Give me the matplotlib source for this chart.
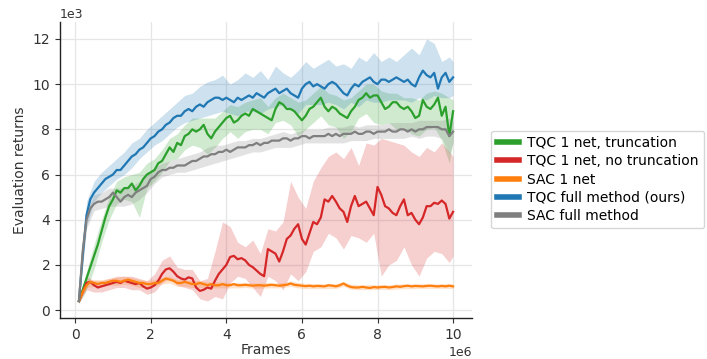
import numpy as np
import matplotlib
matplotlib.use("Agg")
import matplotlib.pyplot as plt

# ---- data (x in 1e6 frames, y in 1e3 returns) ----
x_mean = [round(0.1 * i, 1) for i in range(1, 101)]

blue_mean = [0.4, 2.4, 4.2, 4.9, 5.2, 5.4, 5.6, 5.8, 5.9, 6.0,
             6.2, 6.2, 6.4, 6.6, 6.8, 6.9, 7.1, 7.2, 7.4, 7.6,
             7.7, 7.9, 8.0, 8.2, 8.3, 8.5, 8.6, 8.6, 8.8, 8.9,
             8.8, 9.0, 9.1, 9.0, 9.2, 9.3, 9.4, 9.4, 9.3, 9.4,
             9.3, 9.2, 9.4, 9.3, 9.4, 9.5, 9.4, 9.6, 9.5, 9.4,
             9.6, 9.7, 9.8, 9.6, 9.7, 9.8, 9.6, 9.5, 9.4, 9.8,
             10.0, 10.1, 9.9, 10.0, 9.9, 9.8, 10.0, 10.1, 10.0, 9.8,
             9.6, 9.5, 9.8, 10.0, 9.9, 10.1, 10.2, 10.3, 10.1, 10.0,
             10.2, 10.2, 10.1, 10.2, 10.3, 10.2, 10.1, 10.2, 10.0, 9.9,
             10.3, 10.6, 10.4, 10.3, 10.5, 9.8, 10.3, 10.5, 10.1, 10.3]

green_mean = [0.4, 0.9, 1.4, 1.9, 2.4, 2.9, 3.5, 4.1, 4.6, 4.9,
              5.3, 5.2, 5.4, 5.4, 5.6, 5.3, 5.5, 5.8, 6.0, 6.1,
              6.2, 6.5, 6.6, 6.9, 7.2, 7.0, 7.4, 7.3, 7.7, 7.8,
              8.0, 7.9, 8.0, 8.2, 7.8, 7.6, 7.9, 8.1, 8.3, 8.5,
              8.6, 8.3, 8.4, 8.6, 8.7, 8.6, 8.9, 8.8, 8.7, 8.6,
              8.5, 8.4, 8.9, 9.2, 9.1, 8.9, 8.9, 8.8, 8.6, 8.4,
              8.6, 8.9, 9.0, 9.2, 9.4, 9.0, 8.8, 9.0, 8.9, 8.7,
              8.6, 8.5, 8.8, 9.0, 9.3, 9.4, 9.6, 9.4, 9.5, 9.5,
              9.2, 8.9, 9.0, 9.2, 9.2, 9.0, 8.9, 9.0, 8.8, 8.5,
              8.6, 9.3, 9.0, 8.9, 9.1, 9.4, 8.6, 9.0, 7.7, 8.8]

gray_mean = [0.4, 2.6, 4.0, 4.5, 4.7, 4.8, 4.8, 4.9, 5.0, 5.2,
             5.0, 4.8, 5.0, 5.1, 5.0, 5.2, 5.3, 5.4, 5.5, 5.8,
             5.9, 6.1, 6.2, 6.2, 6.3, 6.3, 6.4, 6.4, 6.4, 6.5,
             6.6, 6.6, 6.7, 6.8, 6.8, 6.9, 6.9, 7.0, 7.0, 7.1,
             7.0, 7.1, 7.2, 7.2, 7.2, 7.3, 7.3, 7.4, 7.3, 7.4,
             7.4, 7.5, 7.5, 7.5, 7.6, 7.6, 7.5, 7.6, 7.6, 7.7,
             7.7, 7.6, 7.7, 7.7, 7.7, 7.7, 7.8, 7.7, 7.8, 7.7,
             7.8, 7.8, 7.8, 7.9, 7.8, 7.8, 7.9, 7.9, 7.8, 7.9,
             7.9, 7.9, 8.0, 7.9, 7.9, 8.0, 8.0, 7.9, 8.0, 7.9,
             8.0, 8.0, 8.1, 8.1, 8.1, 8.1, 8.0, 8.0, 7.7, 7.9]

red_mean = [0.4, 0.8, 1.2, 1.25, 1.1, 1.0, 1.05, 1.1, 1.15, 1.2,
            1.25, 1.2, 1.3, 1.25, 1.2, 1.15, 1.2, 1.05, 0.95, 1.0,
            1.1, 1.3, 1.6, 1.8, 1.85, 1.7, 1.5, 1.4, 1.35, 1.45,
            1.4, 1.0, 0.85, 0.9, 1.0, 0.95, 1.3, 1.6, 1.8, 2.0,
            2.35, 2.4, 2.25, 2.3, 2.2, 2.0, 1.9, 1.75, 1.6, 1.5,
            2.7, 2.6, 2.5, 2.15, 2.6, 3.15, 3.3, 3.6, 3.8, 3.15,
            2.9, 3.4, 3.9, 3.8, 4.1, 4.9, 4.8, 5.05, 4.8, 4.5,
            4.35, 3.9, 4.6, 5.05, 4.6, 4.7, 4.8, 4.5, 4.2, 5.45,
            5.1, 4.6, 4.5, 4.3, 4.2, 4.6, 4.9, 4.2, 4.3, 4.0,
            3.8, 4.1, 4.6, 4.6, 4.75, 4.7, 4.85, 4.7, 4.05, 4.35]

orange_mean = [0.4, 0.8, 1.1, 1.25, 1.2, 1.15, 1.2, 1.2, 1.25, 1.3,
               1.3, 1.25, 1.3, 1.35, 1.3, 1.25, 1.2, 1.2, 1.15, 1.15,
               1.2, 1.2, 1.3, 1.4, 1.35, 1.3, 1.2, 1.2, 1.25, 1.2,
               1.15, 1.15, 1.2, 1.15, 1.1, 1.15, 1.1, 1.1, 1.15, 1.1,
               1.1, 1.15, 1.1, 1.1, 1.12, 1.1, 1.08, 1.1, 1.1, 1.08,
               1.1, 1.12, 1.1, 1.08, 1.1, 1.12, 1.18, 1.12, 1.1, 1.08,
               1.06, 1.08, 1.05, 1.07, 1.06, 1.05, 1.1, 1.08, 1.05, 1.1,
               1.18, 1.08, 1.02, 1.0, 1.0, 1.03, 1.0, 0.98, 1.02, 1.0,
               1.02, 1.03, 1.0, 1.02, 1.05, 1.03, 1.06, 1.08, 1.05, 1.07,
               1.06, 1.05, 1.07, 1.08, 1.06, 1.05, 1.07, 1.05, 1.08, 1.05]

x_band = [0.1, 0.3, 0.5, 0.7, 0.9, 1.1, 1.3, 1.5, 1.7, 1.9, 2.1, 2.3, 2.5, 2.7, 2.9,
          3.1, 3.3, 3.5, 3.7, 3.9, 4.1, 4.3, 4.5, 4.7, 4.9, 5.1, 5.3, 5.5, 5.7, 5.9,
          6.1, 6.3, 6.5, 6.7, 6.9, 7.1, 7.3, 7.5, 7.7, 7.9, 8.1, 8.3, 8.5, 8.7, 8.9,
          9.1, 9.3, 9.5, 9.7, 9.9, 10.0]

blue_upper = [0.5, 4.8, 5.7, 6.1, 6.4, 6.7, 7.0, 7.4, 7.6, 8.0, 8.3, 8.6, 8.9, 9.2, 9.5,
              9.6, 9.9, 10.1, 10.2, 10.4, 10.0, 10.2, 10.5, 10.3, 10.6, 10.2, 10.8, 10.5, 10.3, 10.6,
              11.0, 10.7, 10.9, 11.1, 10.8, 10.9, 10.7, 11.2, 11.0, 11.4, 11.0, 11.2, 11.0, 11.3, 11.6,
              11.3, 12.0, 11.8, 11.0, 11.2, 11.0]
blue_lower = [0.3, 3.7, 4.8, 5.2, 5.5, 5.8, 6.0, 6.3, 6.7, 7.0, 7.3, 7.5, 7.8, 8.1, 8.3,
              8.4, 8.5, 8.6, 8.7, 8.8, 8.7, 8.6, 8.8, 8.8, 8.7, 8.9, 9.0, 9.1, 8.9, 8.7,
              9.1, 9.1, 9.1, 9.2, 9.1, 8.9, 9.2, 9.0, 9.3, 9.2, 9.2, 9.3, 9.3, 9.3, 9.2,
              9.4, 9.3, 9.5, 9.4, 9.4, 9.5]

green_upper = [0.5, 1.7, 2.9, 4.0, 5.0, 5.7, 5.9, 6.0, 6.1, 6.5, 6.7, 7.1, 7.6, 7.8, 8.2,
               8.5, 8.5, 8.5, 8.5, 8.8, 9.1, 9.0, 9.2, 9.3, 9.4, 9.0, 9.4, 9.6, 9.4, 9.2,
               9.3, 9.6, 9.9, 9.6, 9.5, 9.3, 9.4, 9.7, 10.0, 10.0, 9.7, 9.6, 9.6, 9.4, 9.4,
               9.3, 9.6, 9.7, 9.6, 9.4, 9.3]
green_lower = [0.3, 0.9, 1.8, 3.0, 4.0, 4.7, 4.9, 4.8, 4.1, 5.4, 5.7, 6.1, 6.6, 6.7, 7.1,
               7.3, 7.2, 6.9, 7.2, 7.6, 7.9, 7.6, 7.9, 8.0, 8.0, 7.8, 8.3, 8.4, 8.2, 7.7,
               8.0, 8.3, 8.6, 8.2, 8.1, 7.6, 7.9, 8.5, 8.7, 8.3, 8.2, 8.3, 8.0, 8.1, 7.8,
               7.7, 8.0, 8.1, 7.5, 6.5, 7.5]

gray_upper = [0.5, 4.4, 5.1, 5.2, 5.4, 5.4, 5.4, 5.5, 5.7, 6.0, 6.3, 6.5, 6.6, 6.7, 6.8,
              6.9, 7.0, 7.2, 7.3, 7.3, 7.4, 7.5, 7.5, 7.6, 7.6, 7.7, 7.8, 7.9, 7.8, 7.9,
              8.0, 8.0, 8.0, 8.1, 8.1, 8.1, 8.2, 8.1, 8.2, 8.2, 8.2, 8.3, 8.3, 8.3, 8.3,
              8.4, 8.4, 8.4, 8.4, 8.5, 8.3]
gray_lower = [0.3, 3.6, 4.4, 4.5, 4.6, 4.6, 4.6, 4.7, 4.9, 5.2, 5.6, 5.9, 6.0, 6.1, 6.1,
              6.2, 6.3, 6.4, 6.5, 6.6, 6.7, 6.8, 6.9, 7.0, 7.0, 7.1, 7.2, 7.2, 7.2, 7.3,
              7.4, 7.4, 7.4, 7.4, 7.4, 7.4, 7.5, 7.5, 7.5, 7.6, 7.6, 7.6, 7.6, 7.6, 7.7,
              7.6, 7.7, 7.7, 7.6, 6.9, 7.4]

red_upper = [0.5, 1.5, 1.3, 1.3, 1.4, 1.5, 1.5, 1.5, 1.4, 1.3, 1.6, 2.2, 2.4, 1.9, 1.8,
             1.8, 1.3, 1.4, 2.6, 3.9, 3.7, 3.0, 2.8, 3.1, 2.5, 3.6, 3.5, 3.9, 5.7, 5.0,
             4.5, 5.7, 6.3, 6.8, 7.0, 6.7, 7.2, 6.4, 7.4, 7.3, 7.6, 7.5, 7.4, 7.3, 7.0,
             6.8, 7.2, 7.0, 7.4, 7.0, 6.8]
red_lower = [0.3, 0.9, 0.8, 0.8, 0.9, 1.0, 1.0, 0.9, 0.9, 0.7, 0.8, 1.2, 1.4, 1.1, 1.0,
             0.9, 0.5, 0.4, 0.6, 0.5, 1.2, 1.5, 1.4, 1.0, 0.6, 1.5, 1.3, 0.9, 1.6, 1.3,
             1.7, 2.6, 2.8, 3.4, 3.2, 2.7, 3.3, 3.2, 3.0, 3.4, 1.5, 2.0, 2.2, 2.8, 2.0,
             1.5, 2.3, 2.6, 2.5, 2.1, 2.4]

orange_upper = [0.45, 1.3, 1.35, 1.35, 1.4, 1.45, 1.5, 1.45, 1.35, 1.3, 1.35, 1.45, 1.5, 1.35, 1.35,
                1.3, 1.3, 1.25, 1.25, 1.25, 1.22, 1.22, 1.22, 1.2, 1.2, 1.22, 1.2, 1.22, 1.28, 1.22,
                1.18, 1.18, 1.17, 1.17, 1.18, 1.25, 1.15, 1.12, 1.12, 1.12, 1.13, 1.12, 1.15, 1.16, 1.15,
                1.16, 1.17, 1.16, 1.16, 1.17, 1.15]
orange_lower = [0.35, 1.0, 1.05, 1.05, 1.1, 1.1, 1.15, 1.1, 1.0, 1.0, 1.05, 1.15, 1.2, 1.05, 1.05,
                1.0, 1.0, 0.98, 0.98, 0.98, 0.98, 0.98, 1.0, 0.97, 0.97, 0.98, 0.98, 1.0, 1.05, 0.98,
                0.95, 0.95, 0.95, 0.95, 0.96, 1.05, 0.92, 0.9, 0.9, 0.9, 0.92, 0.9, 0.93, 0.95, 0.95,
                0.96, 0.96, 0.96, 0.96, 0.96, 0.95]

labels = ["TQC 1 net, truncation", "TQC 1 net, no truncation", "SAC 1 net",
          "TQC full method (ours)", "SAC full method"]
colors = ["#2ca02c", "#d62728", "#ff7f0e", "#1f77b4", "#7f7f7f"]

means = [green_mean, red_mean, orange_mean, blue_mean, gray_mean]
uppers = [green_upper, red_upper, orange_upper, blue_upper, gray_upper]
lowers = [green_lower, red_lower, orange_lower, blue_lower, gray_lower]

# ---- plot ----
plt.rcParams['font.family'] = ['DejaVu Sans']
fig = plt.figure(figsize=(7.07, 3.59), dpi=100)
ax = fig.add_axes([0.0849, 0.1142, 0.5827, 0.8245])

xm = np.array(x_mean) * 1e6
xb = np.array(x_band) * 1e6
for i in range(5):
    ax.fill_between(xb, np.array(lowers[i]) * 1e3, np.array(uppers[i]) * 1e3,
                    color=colors[i], alpha=0.22, linewidth=0)
handles = []
for i in range(5):
    h, = ax.plot(xm, np.array(means[i]) * 1e3, color=colors[i], lw=1.6, label=labels[i])
    handles.append(h)

ax.set_xlim(-0.4e6, 10.5e6)
ax.set_ylim(-350, 12750)
ax.set_xticks([0, 2e6, 4e6, 6e6, 8e6, 10e6])
ax.set_yticks([0, 2000, 4000, 6000, 8000, 10000, 12000])
ax.ticklabel_format(axis='x', style='sci', scilimits=(6, 6))
ax.ticklabel_format(axis='y', style='sci', scilimits=(3, 3))
ax.xaxis.get_offset_text().set_fontsize(9)
ax.yaxis.get_offset_text().set_fontsize(9)
ax.grid(True, color='#e6e6e6', lw=0.9)
ax.set_axisbelow(True)
for s in ['top', 'right']:
    ax.spines[s].set_visible(False)
for s in ['left', 'bottom']:
    ax.spines[s].set_color('#222222')
    ax.spines[s].set_linewidth(1.0)
ax.tick_params(colors='#333333', labelsize=10, length=3.5)
ax.set_xlabel("Frames", fontsize=10, color='#333333', labelpad=1)
ax.set_ylabel("Evaluation returns", fontsize=10, color='#333333')

leg = fig.legend(handles=handles, labels=labels, loc='center left',
                 bbox_to_anchor=(0.685, 0.5), fontsize=10, frameon=True,
                 handlelength=1.6, labelspacing=0.3, borderpad=0.4,
                 handletextpad=0.6)
for line in leg.get_lines():
    line.set_linewidth(4)
leg.get_frame().set_edgecolor('#cccccc')

fig.savefig("out.png", dpi=100)
